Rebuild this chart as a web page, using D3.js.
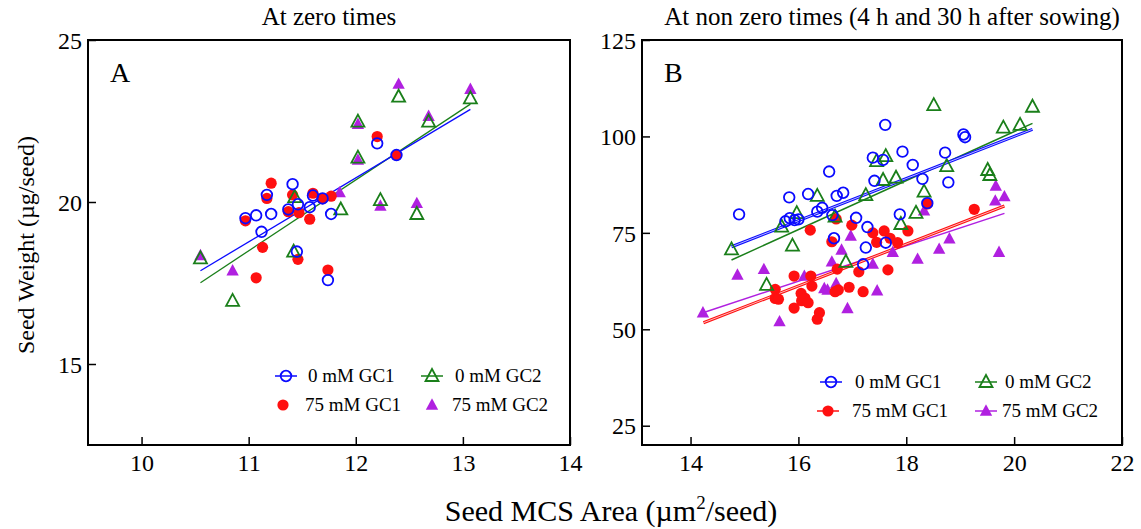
<!DOCTYPE html>
<html>
<head>
<meta charset="utf-8">
<script src="https://cdn.jsdelivr.net/npm/d3@7"></script>
<style>
  html, body { margin: 0; padding: 0; background: #fff; }
  svg text { font-family: "Liberation Serif", "Times New Roman", serif; fill: #000; }
</style>
</head>
<body>
<svg id="chart" width="1141" height="529"></svg>
<script>
// ---------------- DATA ----------------
const seriesNames = ["0 mM GC1", "0 mM GC2", "75 mM GC1", "75 mM GC2"];
const panelTitles = ["At zero times", "At non zero times (4 h and 30 h after sowing)"];
const panelLetters = ["A", "B"];
const yAxisTitle = "Seed Weight (\u00b5g/seed)";

const xTicksA = [10, 11, 12, 13, 14];
const yTicksA = [15, 20, 25];
const xTicksB = [14, 16, 18, 20, 22];
const yTicksB = [25, 50, 75, 100, 125];

// Panel A (zero times): [MCS area, seed weight]
const aGC1_0 = [[10.97,19.5],[11.07,19.59],[11.12,19.08],[11.17,20.22],[11.21,19.63],[11.37,19.77],
  [11.41,20.55],[11.45,18.47],[11.46,19.93],[11.57,19.84],[11.6,20.2],[11.69,20.11],[11.77,19.63],
  [11.74,17.59],[12.2,21.81],[12.38,21.45]];
const aGC1_75 = [[10.97,19.42],[11.07,17.66],[11.13,18.6],[11.17,20.11],[11.21,20.58],[11.37,19.7],
  [11.41,20.22],[11.46,18.23],[11.47,19.67],[11.57,19.47],[11.6,20.27],[11.69,20.1],[11.77,20.18],
  [11.74,17.9],[12.2,22.02],[12.38,21.45]];
const aGC2_0 = [[10.55,18.26],[10.85,16.95],[11.42,18.47],[11.43,20.15],[11.86,19.77],[12.02,22.48],
  [12.02,21.37],[12.23,20.06],[12.4,23.25],[12.57,19.63],[12.68,22.48],[13.07,23.2]];
const aGC2_75 = [[10.55,18.35],[10.85,17.88],[11.85,20.29],[12.02,22.4],[12.02,21.3],[12.23,19.88],
  [12.4,23.64],[12.57,19.96],[12.68,22.65],[13.07,23.48]];
const aFitGC1_0 = [[10.55,17.88],[13.07,22.86]];
const aFitGC2_0 = [[10.55,17.51],[13.07,23.02]];

// Panel B (4 h and 30 h after sowing)
const bGC1_0 = [[14.9,79.8],[15.83,84.2],[16.18,85.07],[15.76,78.0],[15.84,78.8],[15.93,78.3],[16.0,78.5],
  [17.61,103.0],[16.57,90.9],[16.71,84.6],[16.83,85.4],[17.38,94.5],[17.57,93.9],[17.93,96.05],
  [18.12,92.6],[18.72,95.8],[17.41,88.5],[18.3,89.0],[18.78,88.1],[18.39,82.7],[17.88,79.8],
  [17.07,78.9],[16.35,80.5],[16.44,81.5],[16.63,79.6],[17.28,76.5],[16.66,73.6],[17.62,72.45],
  [17.25,71.2],[17.2,66.85],[19.06,100.5],[19.09,99.8]];
const bGC2_0 = [[15.97,80.1],[15.69,76.6],[14.76,70.7],[15.89,71.7],[15.41,61.5],[18.51,108.1],
  [16.35,84.6],[17.62,94.9],[17.45,93.6],[18.75,92.3],[17.57,88.7],[17.81,89.3],[17.25,84.8],
  [18.33,85.7],[18.18,80.2],[17.9,77.3],[16.68,79.2],[16.88,67.5],[20.34,107.7],[19.8,102.3],
  [20.11,103.0],[19.51,91.3],[19.55,90.0]];
const bGC1_75 = [[15.57,60.35],[15.57,58.0],[15.63,57.8],[15.92,63.8],[16.05,59.3],[16.06,57.4],
  [16.12,58.1],[16.18,56.9],[15.92,55.5],[16.22,75.7],[16.25,61.2],[16.7,78.6],[16.99,77.0],
  [17.38,75.0],[17.59,75.5],[17.45,72.55],[17.7,73.6],[17.84,72.45],[18.03,75.5],[16.62,72.7],
  [16.72,65.6],[17.12,64.9],[17.66,65.4],[16.23,63.8],[16.68,59.75],[16.74,60.2],[16.94,60.9],
  [17.2,59.75],[16.39,54.3],[16.35,52.6],[18.39,82.5],[19.26,81.1]];
const bGC2_75 = [[14.87,64.1],[15.36,65.55],[14.23,54.3],[15.65,52.0],[16.11,63.8],[18.33,80.7],
  [16.97,74.2],[16.8,70.55],[17.75,70.0],[18.61,70.8],[18.8,73.5],[18.21,68.2],[16.62,67.5],
  [17.38,66.9],[16.48,60.6],[16.54,60.2],[16.7,61.9],[17.46,60.0],[16.91,55.4],[19.66,87.15],
  [19.82,84.4],[19.65,83.3],[19.72,70.0]];
const bFitGC1_0 = [[14.76,71.4],[20.34,101.85]];
const bFitGC2_0 = [[14.76,67.96],[20.34,103.4]];
const bFitGC1_75 = [[14.24,51.7],[19.82,81.96]];
const bFitGC2_75 = [[14.23,54.3],[19.82,80.06]];

// ---------------- STYLE / LAYOUT ----------------
const C = { blue: "#0a0aff", green: "#1a7f1a", red: "#ff1010", purple: "#b020e0" };
const svg = d3.select("#chart");

const panels = [
  { left: 88, right: 570, top: 40, bottom: 445, xDom: [9.5, 14], yDom: [12.5, 25],
    xTicks: xTicksA, yTicks: yTicksA, title: panelTitles[0], titleX: 329, letter: panelLetters[0],
    series: { gc1_0: aGC1_0, gc2_0: aGC2_0, gc1_75: aGC1_75, gc2_75: aGC2_75 },
    fits: [ {d: aFitGC2_0, c: C.green, w: 1.3}, {d: aFitGC1_0, c: C.blue, w: 1.3} ],
    legend: { x1: 286, x2: 432, y1: 376, y2: 405, tx1: 308, tx2: 455, lineFilled: false } },
  { left: 642, right: 1122, top: 40, bottom: 445, xDom: [13.1, 22], yDom: [20, 125],
    xTicks: xTicksB, yTicks: yTicksB, title: panelTitles[1], titleX: 892, letter: panelLetters[1],
    series: { gc1_0: bGC1_0, gc2_0: bGC2_0, gc1_75: bGC1_75, gc2_75: bGC2_75 },
    fits: [ {d: bFitGC2_75, c: C.purple, w: 1.5}, {d: bFitGC1_75, c: C.red, w: 3, dbl: true},
            {d: bFitGC2_0, c: C.green, w: 1.5}, {d: bFitGC1_0, c: C.blue, w: 3, dbl: true} ],
    legend: { x1: 831, x2: 986, y1: 382, y2: 411, tx1: 855, tx2: 1005, lineFilled: true } }
];

function tri(s) { return `M0,${-7*s}L${6.5*s},${5*s}L${-6.5*s},${5*s}Z`; }

function drawSymbol(g, type, x, y) {
  if (type === "gc1_0") {
    g.append("circle").attr("cx", x).attr("cy", y).attr("r", 5.3)
      .attr("fill", "none").attr("stroke", C.blue).attr("stroke-width", 1.8);
  } else if (type === "gc1_75") {
    g.append("circle").attr("cx", x).attr("cy", y).attr("r", 5.6).attr("fill", C.red);
  } else if (type === "gc2_0") {
    g.append("path").attr("d", tri(1)).attr("transform", `translate(${x},${y})`)
      .attr("fill", "none").attr("stroke", C.green).attr("stroke-width", 1.8);
  } else {
    g.append("path").attr("d", tri(0.95)).attr("transform", `translate(${x},${y})`)
      .attr("fill", C.purple);
  }
}

panels.forEach(p => {
  const x = d3.scaleLinear().domain(p.xDom).range([p.left, p.right]);
  const y = d3.scaleLinear().domain(p.yDom).range([p.bottom, p.top]);
  const g = svg.append("g");

  // axes
  const xa = g.append("g").attr("transform", `translate(0,${p.bottom})`)
    .call(d3.axisBottom(x).tickValues(p.xTicks).tickFormat(d3.format("d"))
      .tickSizeInner(-8).tickSizeOuter(0).tickPadding(9));
  const ya = g.append("g").attr("transform", `translate(${p.left},0)`)
    .call(d3.axisLeft(y).tickValues(p.yTicks).tickFormat(d3.format("d"))
      .tickSizeInner(-8).tickSizeOuter(0).tickPadding(6));
  [xa, ya].forEach(a => {
    a.select(".domain").remove();
    a.selectAll(".tick line").attr("stroke", "#000").attr("stroke-width", 1.5);
    a.selectAll(".tick text").style("font-size", "24px")
      .style("font-family", "'Liberation Serif', 'Times New Roman', serif");
  });
  ya.selectAll(".tick text").attr("dy", "0.34em");

  // frame
  g.append("rect").attr("x", p.left).attr("y", p.top)
    .attr("width", p.right - p.left).attr("height", p.bottom - p.top)
    .attr("fill", "none").attr("stroke", "#000").attr("stroke-width", 2);

  // fit lines
  const line = d3.line().x(d => x(d[0])).y(d => y(d[1]));
  p.fits.forEach(f => {
    g.append("path").attr("d", line(f.d)).attr("stroke", f.c)
      .attr("stroke-width", f.w).attr("fill", "none");
    if (f.dbl) {
      g.append("path").attr("d", line(f.d)).attr("stroke", "#fff")
        .attr("stroke-width", 0.8).attr("fill", "none").attr("opacity", 0.9);
    }
  });

  // points (drawing order: purple, red, green, blue)
  ["gc2_75", "gc1_75", "gc2_0", "gc1_0"].forEach(k => {
    const sg = g.append("g");
    p.series[k].forEach(d => drawSymbol(sg, k, x(d[0]), y(d[1])));
  });

  // title and letter
  svg.append("text").attr("x", p.titleX).attr("y", 25).attr("text-anchor", "middle")
    .style("font-size", "25px").text(p.title);
  svg.append("text").attr("x", p.left + 22).attr("y", 82)
    .style("font-size", "28px").text(p.letter);

  // legend
  const L = p.legend;
  const lg = svg.append("g");
  const items = [
    { k: "gc1_0", x: L.x1, y: L.y1, tx: L.tx1, name: seriesNames[0], c: C.blue, line: true },
    { k: "gc2_0", x: L.x2, y: L.y1, tx: L.tx2, name: seriesNames[1], c: C.green, line: true },
    { k: "gc1_75", x: L.x1 - 3, y: L.y2, tx: L.tx1 - 3, name: seriesNames[2], c: C.red, line: L.lineFilled },
    { k: "gc2_75", x: L.x2, y: L.y2, tx: L.tx2 - 3, name: seriesNames[3], c: C.purple, line: L.lineFilled }
  ];
  items.forEach(it => {
    if (it.line) {
      lg.append("line").attr("x1", it.x - 11).attr("x2", it.x + 11)
        .attr("y1", it.y).attr("y2", it.y).attr("stroke", it.c).attr("stroke-width", 1.5);
    }
    drawSymbol(lg, it.k, it.x, it.y);
    lg.append("text").attr("x", it.tx).attr("y", it.y).attr("dy", "0.34em")
      .style("font-size", "19px").text(it.name);
  });
});

// axis titles
svg.append("text").attr("transform", "translate(34,245) rotate(-90)")
  .attr("text-anchor", "middle").style("font-size", "24px").text(yAxisTitle);
const xt = svg.append("text").attr("x", 611).attr("y", 521).attr("text-anchor", "middle")
  .style("font-size", "30px");
xt.append("tspan").text("Seed MCS Area (\u00b5m");
xt.append("tspan").attr("dy", -12).style("font-size", "19px").text("2");
xt.append("tspan").attr("dy", 12).text("/seed)");
</script>
</body>
</html>
